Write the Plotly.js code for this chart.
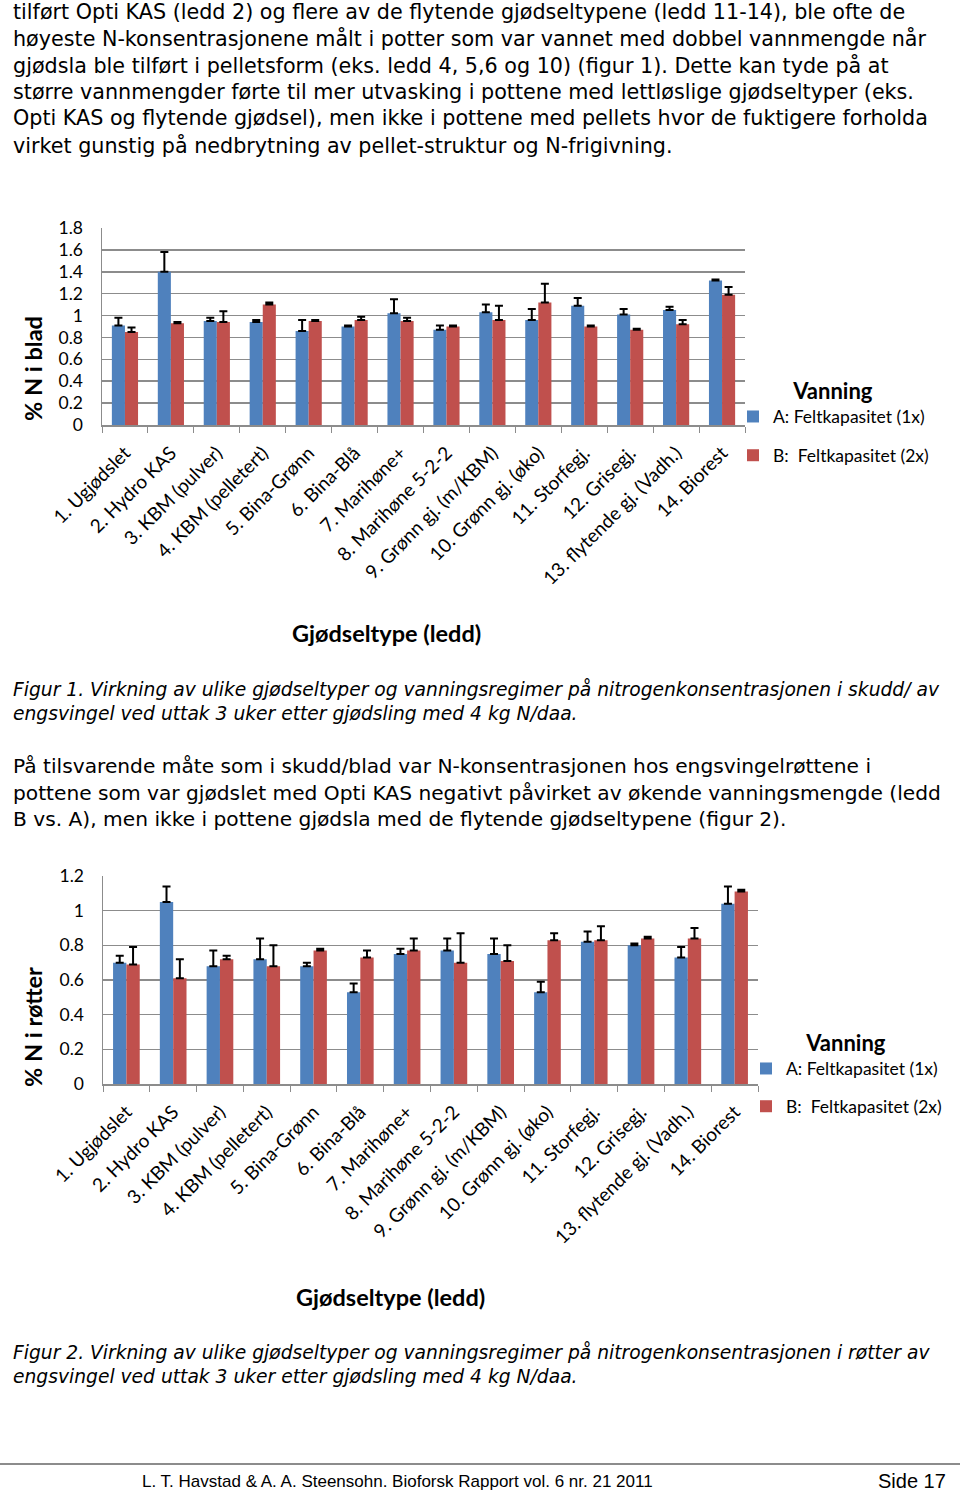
<!DOCTYPE html>
<html><head><meta charset="utf-8">
<script src="https://cdn.plot.ly/plotly-3.0.1.min.js"></script>
<style>html,body{margin:0;padding:0;background:#fff}#chart{width:960px;height:1492px}</style>
</head><body><div id="chart"></div>
<script>
const categories = ["1. Ugjødslet","2. Hydro KAS","3. KBM (pulver)","4. KBM (pelletert)","5. Bina-Grønn","6. Bina-Blå","7. Marihøne+","8. Marihøne 5-2-2","9. Grønn gj. (m/KBM)","10. Grønn gj. (øko)","11. Storfegj.","12. Grisegj.","13. flytende gj. (Vadh.)","14. Biorest"];
const seriesNames = ["A: Feltkapasitet (1x)","B:  Feltkapasitet (2x)"];
// Figur 1: % N i blad
const bladA   = [0.91,1.40,0.95,0.94,0.86,0.90,1.02,0.87,1.03,0.96,1.09,1.01,1.05,1.32];
const bladAse = [0.07,0.18,0.03,0.02,0.10,0.01,0.13,0.04,0.07,0.10,0.07,0.05,0.03,0.01];
const bladB   = [0.85,0.93,0.94,1.10,0.95,0.96,0.95,0.90,0.96,1.12,0.90,0.87,0.92,1.19];
const bladBse = [0.04,0.01,0.10,0.02,0.01,0.03,0.03,0.01,0.13,0.17,0.01,0.01,0.04,0.07];
// Figur 2: % N i røtter
const rotA   = [0.70,1.05,0.68,0.72,0.68,0.53,0.75,0.77,0.75,0.53,0.82,0.80,0.73,1.04];
const rotAse = [0.04,0.09,0.09,0.12,0.02,0.05,0.03,0.07,0.09,0.06,0.06,0.01,0.06,0.10];
const rotB   = [0.69,0.61,0.72,0.68,0.77,0.73,0.77,0.70,0.71,0.83,0.83,0.84,0.84,1.11];
const rotBse = [0.10,0.11,0.02,0.12,0.01,0.04,0.07,0.17,0.09,0.04,0.08,0.01,0.06,0.01];

const para1 = [
 "tilført Opti KAS (ledd 2) og flere av de flytende gjødseltypene (ledd 11-14), ble ofte de",
 "høyeste N-konsentrasjonene målt i potter som var vannet med dobbel vannmengde når",
 "gjødsla ble tilført i pelletsform (eks. ledd 4, 5,6 og 10) (figur 1). Dette kan tyde på at",
 "større vannmengder førte til mer utvasking i pottene med lettløslige gjødseltyper (eks.",
 "Opti KAS og flytende gjødsel), men ikke i pottene med pellets hvor de fuktigere forholda",
 "virket gunstig på nedbrytning av pellet-struktur og N-frigivning."];
const caption1 = ["Figur 1. Virkning av ulike gjødseltyper og vanningsregimer på nitrogenkonsentrasjonen i skudd/ av",
 "engsvingel ved uttak 3 uker etter gjødsling med 4 kg N/daa."];
const para2 = ["På tilsvarende måte som i skudd/blad var N-konsentrasjonen hos engsvingelrøttene i",
 "pottene som var gjødslet med Opti KAS negativt påvirket av økende vanningsmengde (ledd",
 "B vs. A), men ikke i pottene gjødsla med de flytende gjødseltypene (figur 2)."];
const caption2 = ["Figur 2. Virkning av ulike gjødseltyper og vanningsregimer på nitrogenkonsentrasjonen i røtter av",
 "engsvingel ved uttak 3 uker etter gjødsling med 4 kg N/daa."];
const footer = "L. T. Havstad & A. A. Steensohn. Bioforsk Rapport vol. 6 nr. 21 2011";
const pageNo = "Side 17";

const W = 960, H = 1492;
const px = x => x / W, py = y => 1 - y / H;
const BLUE = "#4F81BD", RED = "#C0504D";
const bodyFont = {family: "DejaVu Sans, sans-serif", size: 20.7, color: "#000"};
const body2Font = {family: "DejaVu Sans, sans-serif", size: 20.2, color: "#000"};
const capFont = {family: "DejaVu Sans, sans-serif", size: 18.7, color: "#000"};
const footFont = {family: "Liberation Sans, Arial, sans-serif", size: 17, color: "#000"};
const chartFont = {family: "Lato, sans-serif", size: 17.5, color: "#000"};
const xTickFont = {family: "Lato, sans-serif", size: 19, color: "#000"};
const boldFont = {family: "Lato, sans-serif", size: 23.5, color: "#000"};

function bar(y, se, name, color, xa, ya, leg, grp) {
  return {type: "bar", x: categories, y: y, name: name, xaxis: xa, yaxis: ya,
    legend: leg, legendgroup: grp, showlegend: true,
    marker: {color: color},
    error_y: {type: "data", symmetric: false, array: se, arrayminus: se.map(() => 0),
      color: "#000", thickness: 2, width: 4}};
}
const data = [
  bar(bladA, bladAse, seriesNames[0], BLUE, "x", "y", "legend", "a"),
  bar(bladB, bladBse, seriesNames[1], RED, "x", "y", "legend", "b"),
  bar(rotA, rotAse, seriesNames[0], BLUE, "x2", "y2", "legend2", "a"),
  bar(rotB, rotBse, seriesNames[1], RED, "x2", "y2", "legend2", "b")
];

function xax(d, anchor) {
  return {domain: d, anchor: anchor, type: "category", tickangle: -45, tickfont: xTickFont,
    showline: true, linecolor: "#8c8c8c", linewidth: 1.5, ticks: "outside", tickson: "boundaries",
    ticklen: 6, tickcolor: "#8c8c8c", showgrid: false, ticklabelstandoff: 8, fixedrange: true};
}
function yax(d, anchor, range, dtick) {
  return {domain: d, anchor: anchor, range: range, dtick: dtick, tickfont: chartFont,
    showline: true, linecolor: "#8c8c8c", linewidth: 1.5, gridcolor: "#8c8c8c", gridwidth: 1.5,
    zeroline: false, ticks: "", ticklabelstandoff: 14, fixedrange: true};
}

const ann = [];
function line(t, x, y, font, xanchor) {
  ann.push({text: t, x: px(x), y: py(y), xref: "paper", yref: "paper", xanchor: xanchor || "left",
    yanchor: "middle", showarrow: false, font: font});
}
para1.forEach((t, i) => line(t, 11, 12 + i * 26.6, bodyFont));
caption1.forEach((t, i) => line("<i>" + t + "</i>", 11, 689 + i * 24.5, capFont));
para2.forEach((t, i) => line(t, 11, 766 + i * 26.6, body2Font));
caption2.forEach((t, i) => line("<i>" + t + "</i>", 11, 1352 + i * 24.5, capFont));
line(footer, 397, 1481, footFont, "center");
line(pageNo, 948, 1481, Object.assign({}, footFont, {size: 20}), "right");
line("<b>Gjødseltype (ledd)</b>", 386, 633, boldFont, "center");
line("<b>Gjødseltype (ledd)</b>", 390, 1297, boldFont, "center");
ann.push({text: "<b>% N i blad</b>", x: px(33), y: py(369), xref: "paper", yref: "paper", textangle: -90,
  xanchor: "center", yanchor: "middle", showarrow: false, font: boldFont});
ann.push({text: "<b>% N i røtter</b>", x: px(33), y: py(1027), xref: "paper", yref: "paper", textangle: -90,
  xanchor: "center", yanchor: "middle", showarrow: false, font: boldFont});

const legFont = {family: "Lato, sans-serif", size: 17.5, color: "#000"};
const legTitleFont = {family: "Lato, sans-serif", size: 22, color: "#000"};
const layout = {
  width: W, height: H, margin: {l: 0, r: 0, t: 0, b: 0},
  paper_bgcolor: "#fff", plot_bgcolor: "#fff",
  barmode: "group", bargap: 0.43, bargroupgap: 0,
  xaxis: xax([px(102), px(745)], "y"),
  yaxis: yax([py(425), py(228)], "x", [0, 1.8], 0.2),
  xaxis2: xax([px(103), px(758)], "y2"),
  yaxis2: yax([py(1084), py(876)], "x2", [0, 1.2], 0.2),
  legend: {x: px(733), y: py(370), xanchor: "left", yanchor: "top", font: legFont,
    title: {text: "<b>Vanning</b>", font: legTitleFont, side: "top center"},
    traceorder: "grouped", tracegroupgap: 13, itemwidth: 30, bgcolor: "rgba(0,0,0,0)"},
  legend2: {x: px(746), y: py(1022), xanchor: "left", yanchor: "top", font: legFont,
    title: {text: "<b>Vanning</b>", font: legTitleFont, side: "top center"},
    traceorder: "grouped", tracegroupgap: 12, itemwidth: 30, bgcolor: "rgba(0,0,0,0)"},
  annotations: ann,
  shapes: [{type: "line", xref: "paper", yref: "paper", x0: 0, x1: 1, y0: py(1464), y1: py(1464),
    line: {color: "#666", width: 1.5}}]
};
Plotly.newPlot("chart", data, layout, {displayModeBar: false, staticPlot: true});
</script></body></html>
